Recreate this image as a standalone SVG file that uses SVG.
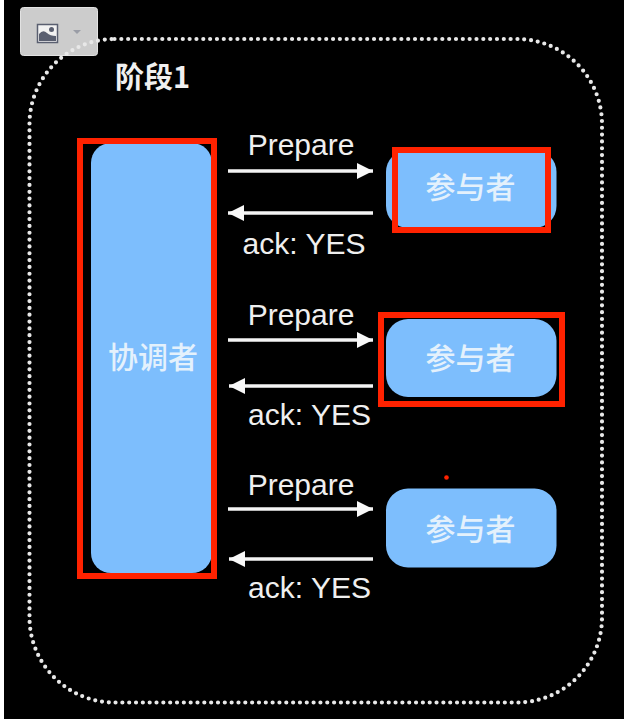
<svg xmlns="http://www.w3.org/2000/svg" width="624" height="719" viewBox="0 0 624 719">
<style>
.lat{font-family:"Liberation Sans",Arial,sans-serif;font-size:30px;fill:#efefef;text-anchor:middle}
.cjk{font-family:"Noto Sans CJK SC","Noto Sans",sans-serif;font-size:30px;font-weight:500;fill:#e4f1fc;text-anchor:middle}
.blue{fill:#7dbefd}
.red{fill:none;stroke:#ff2200;stroke-width:6}
.conn{stroke:#f4f4f4;stroke-width:3.500;fill:none}
</style>
<defs>
<marker id="ah" markerUnits="userSpaceOnUse" markerWidth="17" markerHeight="17" refX="16" refY="8.500" orient="auto-start-reverse">
<path d="M0 0.500L16 8.500L0 16.500Z" fill="#f8f8f8"/>
</marker>
</defs>
<rect width="624" height="719" fill="#000"/>
<rect x="0" y="0" width="4" height="719" fill="#fff"/>
<g id="toolbar-button">
<rect x="20.500" y="7.500" width="77" height="48" rx="3" fill="#cccccc" stroke="#e2e2e2"/>
<rect x="37.500" y="24.500" width="20" height="18" fill="#f2f2f2" stroke="#5a5f70" stroke-width="1.500"/>
<path d="M39 41V34Q43 29 47 33Q50 36 56 36V41Z" fill="#5a5f70"/>
<circle cx="51.500" cy="29.500" r="2.500" fill="#5a5f70"/>
<path d="M73 30H81L77 34Z" fill="#9a9da6"/>
</g>
<rect id="phase-border" x="29.500" y="39" width="572.500" height="663.500" rx="85" ry="85" fill="none" stroke="#e8e8e8" stroke-width="4.200" stroke-linecap="round" stroke-dasharray="0 6.830"/>
<text id="phase-label" x="152.500" y="88" style="font-family:'Noto Sans CJK SC','Noto Sans',sans-serif;font-size:29px;font-weight:700;fill:#f0f0f0;text-anchor:middle">阶段1</text>
<g id="connectors">
<line class="conn" x1="228" y1="171" x2="373" y2="171" marker-end="url(#ah)"/>
<line class="conn" x1="373" y1="213" x2="228" y2="213" marker-end="url(#ah)"/>
<line class="conn" x1="228" y1="340" x2="373" y2="340" marker-end="url(#ah)"/>
<line class="conn" x1="373" y1="386" x2="229" y2="386" marker-end="url(#ah)"/>
<line class="conn" x1="228" y1="509" x2="373" y2="509" marker-end="url(#ah)"/>
<line class="conn" x1="373" y1="559" x2="229" y2="559" marker-end="url(#ah)"/>
</g>
<g id="connector-labels">
<text class="lat" x="301" y="155">Prepare</text>
<text class="lat" x="304" y="253.500">ack: YES</text>
<text class="lat" x="301" y="325">Prepare</text>
<text class="lat" x="309.500" y="425">ack: YES</text>
<text class="lat" x="301" y="495">Prepare</text>
<text class="lat" x="309.500" y="598">ack: YES</text>
</g>
<g id="coordinator">
<rect class="blue" x="91" y="143" width="121" height="430" rx="20"/>
<text class="cjk" x="153" y="368">协调者</text>
</g>
<g id="participant-1">
<rect class="blue" x="386" y="150" width="170.500" height="78" rx="22"/>
<text class="cjk" x="470.500" y="198">参与者</text>
</g>
<g id="participant-2">
<rect class="blue" x="386" y="319" width="170.500" height="78" rx="22"/>
<text class="cjk" x="470.500" y="369">参与者</text>
</g>
<g id="participant-3">
<rect class="blue" x="386" y="488.500" width="170.500" height="79" rx="22"/>
<text class="cjk" x="470.500" y="540">参与者</text>
</g>
<g id="highlights">
<rect class="red" x="80" y="141" width="134" height="435"/>
<rect class="red" x="395" y="150" width="153" height="80"/>
<rect class="red" x="381" y="315" width="181" height="89"/>
<circle cx="446.500" cy="477.500" r="2.300" fill="#ff2200"/>
</g>
</svg>
